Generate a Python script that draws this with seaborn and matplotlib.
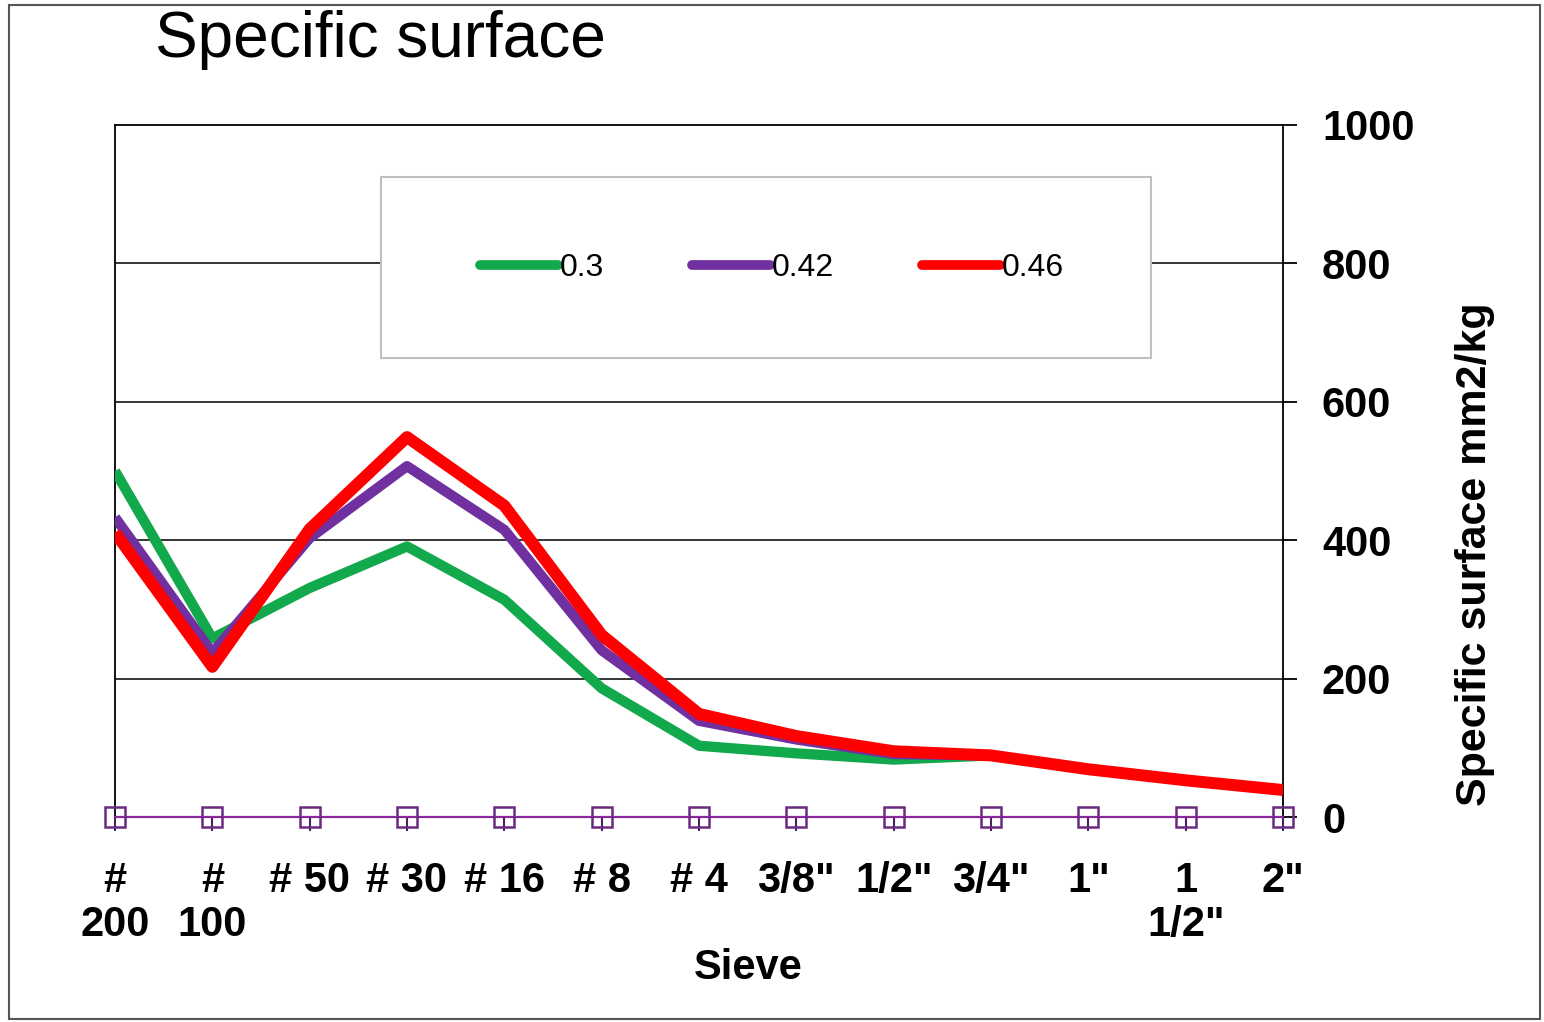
import numpy as np
import pandas as pd
import matplotlib
matplotlib.use("Agg")
import matplotlib.pyplot as plt
import seaborn as sns

# sieve sizes and specific surface (mm2/kg) per w/c ratio
sieves = ['#\n200', '#\n100', '# 50', '# 30', '# 16', '# 8', '# 4',
          '3/8"', '1/2"', '3/4"', '1"', '1\n1/2"', '2"']
ss_030 = [500, 258, 331, 391, 314, 186, 103, 92, 83, 89, 69, 53, 39]
ss_042 = [433, 237, 403, 507, 415, 241, 139, 112, 91, 89, 69, 53, 39]
ss_046 = [411, 217, 416, 549, 450, 263, 149, 117, 95, 89, 69, 53, 39]
zero_line = [0] * len(sieves)
series_names = ['0.3', '0.42', '0.46']
colors = {'0.3': '#12a84c', '0.42': '#7030a0', '0.46': '#ff0000'}
widths = {'0.3': 7.4, '0.42': 7.4, '0.46': 8.6}

pos = np.arange(len(sieves))
df = pd.DataFrame({'pos': pos, '0.3': ss_030, '0.42': ss_042, '0.46': ss_046})

sns.set_style("white")
plt.rcParams['font.family'] = ['Liberation Sans', 'DejaVu Sans']
plt.rcParams['text.color'] = 'black'
plt.rcParams['axes.labelcolor'] = 'black'
plt.rcParams['xtick.color'] = 'black'
plt.rcParams['ytick.color'] = 'black'

fig = plt.figure(figsize=(15.44, 10.22), dpi=100)
ax = fig.add_axes([115/1544, 1-817/1022, 1168/1544, 692/1022])

# horizontal grid
for v in [200, 400, 600, 800]:
    ax.axhline(v, color='black', lw=1.1, zorder=1)

for name in series_names:
    sns.lineplot(data=df, x='pos', y=name, color=colors[name], lw=widths[name],
                 label=name, ax=ax, zorder=4, solid_joinstyle='round',
                 solid_capstyle='butt')

# zero series with open square markers
sns.lineplot(x=pos, y=zero_line, color='#8a2a9a', lw=1.6, marker='s',
             markersize=14, markerfacecolor='none', markeredgecolor='#6a2a80',
             markeredgewidth=1.8, ax=ax, zorder=5, clip_on=False, legend=False)

ax.set_xlim(0, len(sieves) - 1)
ax.set_ylim(0, 1000)
ax.set_xticks(pos)
ax.set_xticklabels(sieves, fontsize=30, fontweight='bold')
for lab in ax.get_xticklabels():
    lab.set_linespacing(1.1)
ax.tick_params(axis='x', direction='out', length=10, width=1.5, color='#4b2060',
               labelcolor='black', pad=22, bottom=True)

ax.yaxis.tick_right()
ax.set_yticks([0, 200, 400, 600, 800, 1000])
ax.set_yticklabels(['0', '200', '400', '600', '800', '1000'], fontsize=30,
                   fontweight='bold')
ax.tick_params(axis='y', direction='out', length=10, width=1.3, color='black',
               labelcolor='black', pad=18, right=True, left=False)

for side in ['left', 'right', 'top']:
    ax.spines[side].set_color('black')
    ax.spines[side].set_linewidth(1.3)
ax.spines['bottom'].set_visible(False)

ax.set_xlabel('Sieve', fontsize=30, fontweight='bold')
ax.xaxis.set_label_coords(0.542, -0.19)
ax.set_ylabel('Specific surface mm2/kg', fontsize=31, fontweight='bold')
ax.yaxis.set_label_position('right')
ax.yaxis.set_label_coords(1.147, 0.38)

# legend box
box = plt.Rectangle((0.2277, 0.663), 0.659, 0.262, transform=ax.transAxes,
                    facecolor='white', edgecolor='#c0c0c0', lw=1.5, zorder=3)
ax.add_patch(box)
leg = ax.legend(loc='center', bbox_to_anchor=(0.5625, 0.793), ncol=3,
                frameon=False, fontsize=23, handlelength=2.45,
                handletextpad=0.05, columnspacing=2.75)
for h in leg.get_lines():
    h.set_solid_capstyle('round')
    h.set_linewidth(7)
leg.set_zorder(6)

fig.text(155/1544, 1-40/1022, 'Specific surface', fontsize=46, va='center',
         ha='left')

border = plt.Rectangle((9/1544, 3/1022), 1531/1544, 1014/1022,
                       transform=fig.transFigure, fill=False,
                       edgecolor='#555555', lw=1.5)
fig.patches.append(border)

fig.savefig('out.png', dpi=100)
